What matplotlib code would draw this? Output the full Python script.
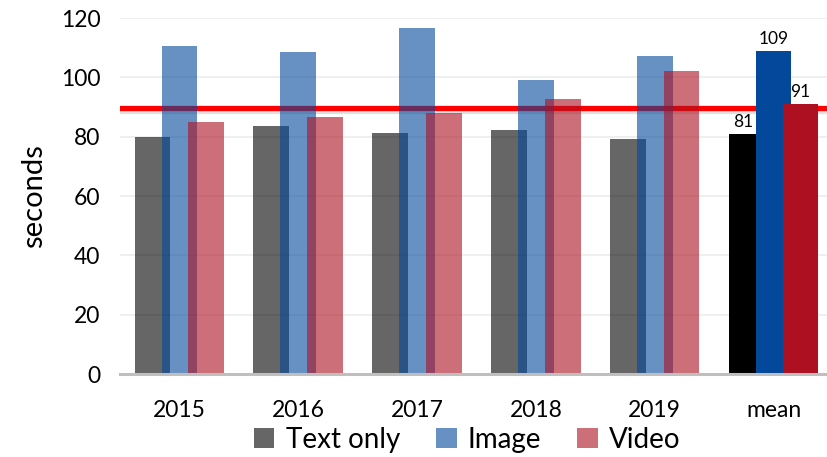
import numpy as np
import matplotlib
matplotlib.use('Agg')
import matplotlib.pyplot as plt
import matplotlib.patheffects as pe

plt.rcParams['font.family'] = ['Lato', 'DejaVu Sans']

# data
years = ['2015', '2016', '2017', '2018', '2019']
text_only = [80.0, 83.6, 81.1, 82.2, 79.1]
image = [110.4, 108.4, 116.7, 99.1, 107.2]
video = [84.8, 86.6, 88.0, 92.8, 102.0]
means = [81, 109, 91]
mean_label = 'mean'
ref_line = 89.5

c_text = '#000000'
c_img = '#03489b'
c_vid = '#ad1020'

fig = plt.figure(figsize=(8.27, 4.57), dpi=100)
ax = fig.add_axes([0.145, 0.1816, 0.855, 0.779])

w = 0.30   # bar width
step = 0.227  # offset between series (bars overlap)
x = np.arange(len(years))

ax.axhline(ref_line, color='#ff0000', lw=3.8, zorder=2,
           path_effects=[pe.SimpleLineShadow(offset=(0, -1.5), shadow_color='#888888', alpha=0.25),
                         pe.Normal()])

b1 = ax.bar(x - step, text_only, w, color=c_text, alpha=0.6, zorder=3, label='Text only')
b2 = ax.bar(x, image, w, color=c_img, alpha=0.6, zorder=4, label='Image')
b3 = ax.bar(x + step, video, w, color=c_vid, alpha=0.6, zorder=5, label='Video')

xm = len(years)
mcols = [c_text, c_img, c_vid]
for i, (v, c) in enumerate(zip(means, mcols)):
    xi = xm + (i - 1) * step
    ax.bar(xi, v, w, color=c, zorder=6 + i)
    lx = xi - 0.03 if i == 0 else xi
    ax.text(lx, v + 1.2, str(v), ha='center', va='bottom', fontsize=12.5, zorder=10)

ax.set_xlim(-0.5, 5.45)
ax.set_ylim(0, 120)
ax.set_yticks(range(0, 121, 20))
ax.set_xticks(list(x) + [xm])
ax.set_xticklabels(years + [mean_label])
ax.tick_params(axis='both', length=0, labelsize=16.5)
ax.tick_params(axis='x', pad=19)
ax.tick_params(axis='y', pad=14)
ax.yaxis.grid(True, color='#ececec', lw=1.2, zorder=0)
ax.set_axisbelow(True)
for s in ['top', 'right', 'left']:
    ax.spines[s].set_visible(False)
ax.spines['bottom'].set_color('#bfbfbf')
ax.spines['bottom'].set_linewidth(2.2)
ax.spines['bottom'].set_zorder(12)
ax.set_ylabel('seconds', fontsize=21, labelpad=10)

fig.legend(handles=[b1, b2, b3], loc='lower center', ncol=3, frameon=False,
           bbox_to_anchor=(0.565, -0.045), fontsize=20, handlelength=0.75, handleheight=0.75,
           handletextpad=0.4, columnspacing=1.3)

fig.savefig('out.png', dpi=100)
